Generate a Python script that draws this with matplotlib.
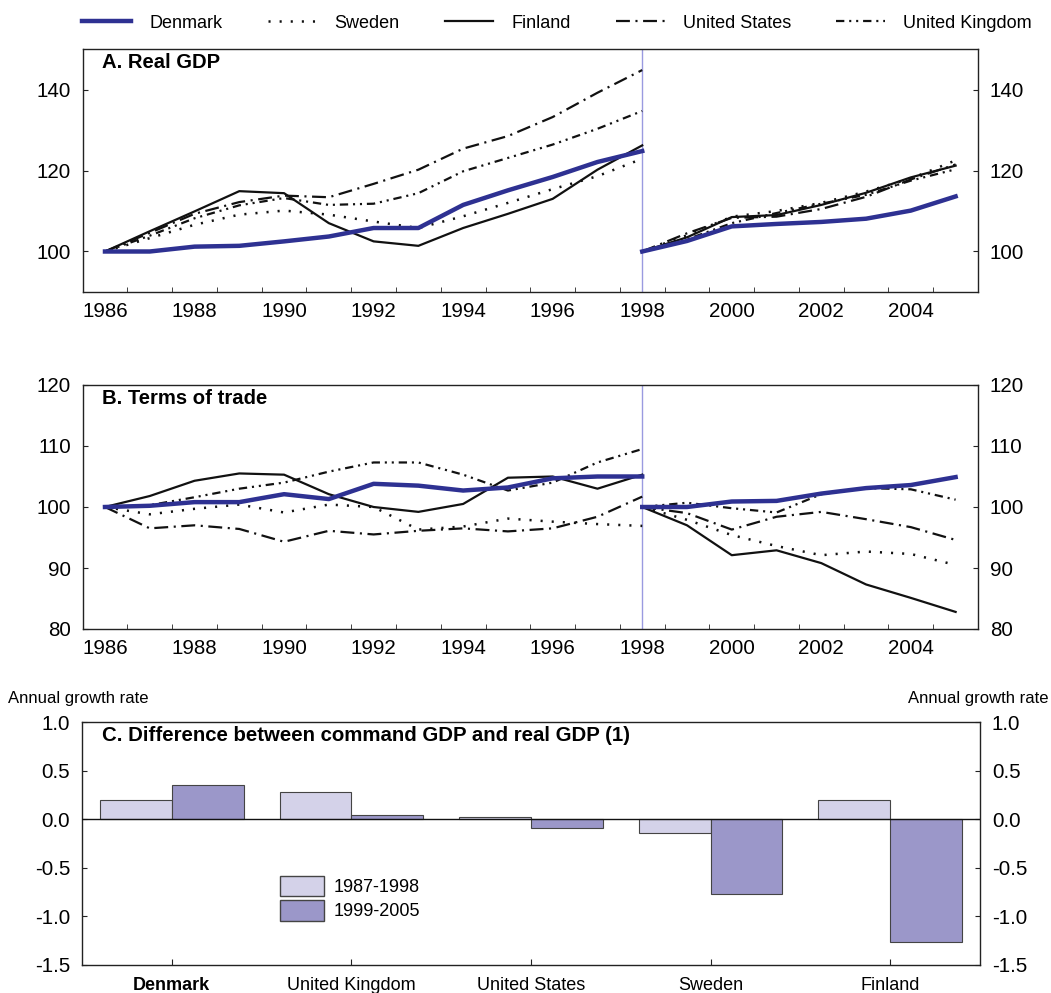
import matplotlib.pyplot as plt
from matplotlib.patches import Patch
from matplotlib.lines import Line2D
import numpy as np

plt.rcParams['font.family'] = ['Liberation Sans', 'DejaVu Sans']
plt.rcParams['lines.scale_dashes'] = False

# Years: first period rebased 1986 = 100, second period rebased 1998 = 100
years_early = list(range(1986, 1999))
years_late = list(range(1998, 2006))

# A. Real GDP
gdp_dk_early = [100, 100, 101.2, 101.4, 102.5, 103.7, 105.8, 105.8, 111.5, 115.1, 118.4, 122.1, 124.8]
gdp_se_early = [100, 103.3, 106.6, 109.1, 110.1, 109.1, 107.4, 105.8, 108.7, 112.0, 115.4, 118.6, 122.9]
gdp_fi_early = [100, 105.0, 109.9, 114.9, 114.4, 107.0, 102.5, 101.4, 105.8, 109.3, 113.0, 120.2, 126.2]
gdp_us_early = [100, 104.6, 109.3, 112.2, 113.8, 113.4, 116.7, 120.2, 125.4, 128.5, 133.2, 139.2, 144.8]
gdp_uk_early = [100, 103.9, 108.2, 111.4, 113.2, 111.5, 111.8, 114.4, 119.8, 123.1, 126.4, 130.3, 134.7]

gdp_dk_late = [100, 102.6, 106.2, 106.8, 107.3, 108.1, 110.1, 113.6]
gdp_se_late = [100, 104.0, 108.6, 110.0, 112.0, 114.8, 118.0, 122.5]
gdp_fi_late = [100, 103.5, 108.5, 109.0, 111.5, 114.5, 118.3, 121.2]
gdp_us_late = [100, 104.5, 108.3, 108.6, 110.5, 113.5, 117.8, 121.5]
gdp_uk_late = [100, 103.0, 107.0, 109.5, 111.8, 114.0, 117.5, 120.3]

# B. Terms of trade
tot_dk_early = [100, 100.2, 100.8, 100.8, 102.1, 101.3, 103.8, 103.5, 102.7, 103.2, 104.7, 105.0, 105.0]
tot_se_early = [100, 98.8, 99.7, 100.4, 99.1, 100.4, 100.0, 96.3, 96.8, 98.1, 97.6, 97.2, 96.9]
tot_fi_early = [100, 101.8, 104.3, 105.5, 105.3, 102.1, 100.0, 99.2, 100.5, 104.8, 105.0, 103.0, 105.3]
tot_us_early = [100, 96.5, 97.0, 96.4, 94.3, 96.1, 95.5, 96.1, 96.5, 96.0, 96.5, 98.4, 101.7]
tot_uk_early = [100, 100.3, 101.6, 103.0, 104.0, 105.8, 107.3, 107.3, 105.3, 102.7, 104.0, 107.3, 109.5]

tot_dk_late = [100, 100.0, 100.9, 101.0, 102.2, 103.1, 103.6, 104.9]
tot_se_late = [100, 97.9, 95.4, 93.6, 92.1, 92.7, 92.3, 90.5]
tot_fi_late = [100, 97.0, 92.1, 92.9, 90.8, 87.3, 85.1, 82.8]
tot_us_late = [100, 99.0, 96.3, 98.4, 99.2, 98.0, 96.7, 94.6]
tot_uk_late = [100, 100.7, 99.8, 99.1, 102.1, 103.1, 102.9, 101.2]

# C. Difference between command GDP and real GDP, annual growth rate
bar_countries = ['Denmark', 'United Kingdom', 'United States', 'Sweden', 'Finland']
diff_8798 = [0.20, 0.28, 0.02, -0.14, 0.20]
diff_9905 = [0.355, 0.045, -0.09, -0.77, -1.265]

countries = ['Denmark', 'Sweden', 'Finland', 'United States', 'United Kingdom']
blue = '#2e3192'
styles = {
    'Denmark': dict(color=blue, lw=3.2, ls='-', zorder=4),
    'Sweden': dict(color='#111111', lw=1.8, ls=(0, (1.5, 6.5)), zorder=3),
    'Finland': dict(color='#111111', lw=1.6, ls='-', zorder=3),
    'United States': dict(color='#111111', lw=1.6, ls=(0, (10, 4, 1.5, 4)), zorder=3),
    'United Kingdom': dict(color='#111111', lw=1.6, ls=(0, (6, 3.5, 1.5, 3.5, 1.5, 3.5)), zorder=3),
}

gdp_series = {
    'Denmark': (gdp_dk_early, gdp_dk_late), 'Sweden': (gdp_se_early, gdp_se_late),
    'Finland': (gdp_fi_early, gdp_fi_late), 'United States': (gdp_us_early, gdp_us_late),
    'United Kingdom': (gdp_uk_early, gdp_uk_late),
}
tot_series = {
    'Denmark': (tot_dk_early, tot_dk_late), 'Sweden': (tot_se_early, tot_se_late),
    'Finland': (tot_fi_early, tot_fi_late), 'United States': (tot_us_early, tot_us_late),
    'United Kingdom': (tot_uk_early, tot_uk_late),
}

W, H = 1051, 993
fig = plt.figure(figsize=(W / 100, H / 100), dpi=100)
spine_col = '#222222'
tick_fs = 14.8


def style_axes(ax):
    for s in ax.spines.values():
        s.set_color(spine_col)
        s.set_linewidth(1.0)
    ax.tick_params(axis='y', which='both', direction='in', length=3.5, left=True, right=True,
                   labelleft=True, labelright=True, labelsize=tick_fs, pad=8.5, color=spine_col)


def line_panel(rect, series, ylim, yticks, title):
    ax = fig.add_axes(rect)
    for c in countries:
        early, late = series[c]
        ax.plot(years_early, early, **styles[c])
        ax.plot(years_late, late, **styles[c])
    ax.axvline(1998, color='#9a9ae0', lw=1.0, zorder=2)
    ax.set_xlim(1985.5, 2005.5)
    ax.set_ylim(*ylim)
    ax.set_yticks(yticks)
    ax.set_xticks(list(range(1986, 2006, 2)))
    ax.set_xticks([y + 0.5 for y in range(1986, 2005)], minor=True)
    ax.tick_params(axis='x', which='major', length=0, labelsize=tick_fs, pad=7)
    ax.tick_params(axis='x', which='minor', direction='in', length=3.5, color=spine_col)
    style_axes(ax)
    ax.text(0.022, 0.985, title, transform=ax.transAxes, ha='left', va='top',
            fontsize=14.6, fontweight='bold')
    return ax


x0 = 82.6 / W
wd = 895.4 / W
axA = line_panel([x0, (H - 292) / H, wd, 243 / H], gdp_series, (90, 150), [100, 120, 140], 'A. Real GDP')
axB = line_panel([x0, (H - 629) / H, wd, 244 / H], tot_series, (80, 120), [80, 90, 100, 110, 120],
                 'B. Terms of trade')

# Top legend
handles = [Line2D([0], [0], **{k: v for k, v in styles[c].items() if k != 'zorder'}) for c in countries]
fig.legend(handles, countries, loc='center', bbox_to_anchor=(557 / W, 1 - 23 / H), ncol=5,
           frameon=False, fontsize=13, handlelength=2.7, handletextpad=1.0, columnspacing=2.5)

# Panel C
axC = fig.add_axes([82 / W, (H - 965) / H, 898 / W, 243 / H])
xpos = np.arange(len(bar_countries))
light = '#d4d2e9'
dark = '#9b97c9'
axC.bar(xpos - 0.2, diff_8798, width=0.4, color=light, edgecolor='#444444', lw=0.8,
        label='1987-1998', zorder=2)
axC.bar(xpos + 0.2, diff_9905, width=0.4, color=dark, edgecolor='#444444', lw=0.8,
        label='1999-2005', zorder=2)
axC.axhline(0, color='#111111', lw=1.0, zorder=3)
axC.set_xlim(-0.5, len(bar_countries) - 0.5)
axC.set_ylim(-1.5, 1.0)
axC.set_yticks([-1.5, -1.0, -0.5, 0.0, 0.5, 1.0])
axC.set_yticklabels([f'{v:.1f}' for v in [-1.5, -1.0, -0.5, 0.0, 0.5, 1.0]])
axC.set_xticks(xpos)
axC.set_xticklabels(bar_countries, fontsize=13)
axC.get_xticklabels()[0].set_fontweight('bold')
axC.tick_params(axis='x', direction='in', length=4, pad=9, color=spine_col)
style_axes(axC)
axC.text(0.022, 0.985, 'C. Difference between command GDP and real GDP (1)', transform=axC.transAxes,
         ha='left', va='top', fontsize=14.7, fontweight='bold')
leg_handles = [Patch(facecolor=light, edgecolor='#444444', lw=1.0),
               Patch(facecolor=dark, edgecolor='#444444', lw=1.0)]
axC.legend(leg_handles, ['1987-1998', '1999-2005'], loc='upper left',
           bbox_to_anchor=((280 - 82) / 898, (965 - 876) / 243), frameon=False, fontsize=13,
           handlelength=2.45, handleheight=1.35, handletextpad=0.5, labelspacing=0.22,
           borderaxespad=0, borderpad=0)

fig.text(8 / W, 1 - 698 / H, 'Annual growth rate', ha='left', va='center', fontsize=12)
fig.text(1048 / W, 1 - 698 / H, 'Annual growth rate', ha='right', va='center', fontsize=12)

fig.savefig('out.png', dpi=100)
